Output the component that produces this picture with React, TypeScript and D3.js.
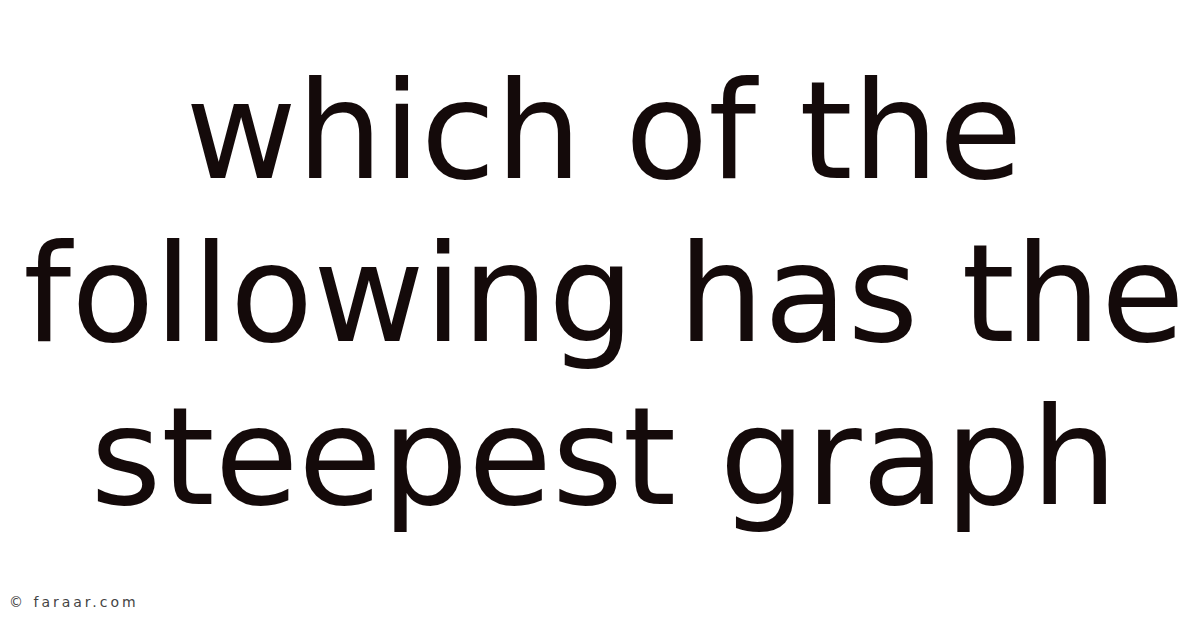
import { useEffect, useRef } from 'react';
import * as d3 from 'd3';

// title lines, top to bottom
const titleLines = ['which of the', 'following has the', 'steepest graph'];
const watermark = '© faraar.com';

function App() {
  const svgRef = useRef<SVGSVGElement | null>(null);
  const width = 1200;
  const height = 628;

  useEffect(() => {
    const svg = d3.select(svgRef.current).attr('viewBox', `0,0,${width},${height}`);
    svg.selectAll('*').remove();

    svg.append('rect').attr('width', width).attr('height', height).attr('fill', '#ffffff');

    const yScale = d3
      .scaleLinear()
      .domain([0, titleLines.length - 1])
      .range([178, 504]);

    svg
      .append('g')
      .selectAll('text')
      .data(titleLines)
      .enter()
      .append('text')
      .attr('x', width / 2 + 4)
      .attr('y', (_, i) => yScale(i))
      .attr('text-anchor', 'middle')
      .attr('font-family', '"DejaVu Sans", sans-serif')
      .attr('font-size', 136)
      .attr('fill', '#140a0a')
      .text((d) => d);

    svg
      .append('text')
      .attr('x', 9)
      .attr('y', 607)
      .attr('font-family', '"DejaVu Sans", sans-serif')
      .attr('font-size', 14)
      .attr('letter-spacing', 3)
      .attr('fill', '#444444')
      .text(watermark);
  }, []);

  return (
    <svg
      ref={svgRef}
      width={width}
      height={height}
      style={{ position: 'absolute', top: 0, left: 0, display: 'block' }}
    />
  );
}

export default App;
